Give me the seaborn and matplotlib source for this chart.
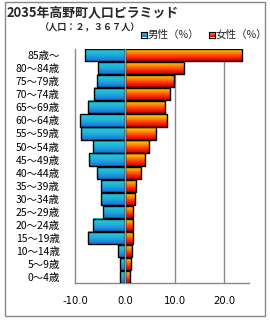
import numpy as np
import pandas as pd
import matplotlib
matplotlib.use("Agg")
import matplotlib.pyplot as plt
from matplotlib.patches import Rectangle
from matplotlib.colors import LinearSegmentedColormap
import seaborn as sns

categories = ["85歳～", "80～84歳", "75～79歳", "70～74歳", "65～69歳", "60～64歳",
              "55～59歳", "50～54歳", "45～49歳", "40～44歳", "35～39歳", "30～34歳",
              "25～29歳", "20～24歳", "15～19歳", "10～14歳", "5～9歳", "0～4歳"]
male = [7.9, 5.3, 5.5, 6.2, 7.4, 8.9, 8.7, 6.4, 7.1, 5.5, 4.7, 4.7, 4.4, 6.4, 7.3, 1.3, 0.9, 0.9]
female = [23.6, 11.8, 9.8, 9.0, 8.0, 8.4, 6.2, 4.8, 4.0, 3.2, 2.2, 2.0, 1.6, 1.6, 1.6, 1.4, 1.2, 1.0]
xticks = [-10, 0, 10, 20]
xticklabels = ["-10.0", "0.0", "10.0", "20.0"]

sns.set_theme(style="white")
plt.rcParams['font.family'] = ['Noto Sans CJK JP', 'DejaVu Sans']

fig = plt.figure(figsize=(2.7, 3.2), dpi=100)
ax = fig.add_axes([75/270, 1-283.3/320, (249.3-75)/270, (283.3-48.8)/320])

df = pd.DataFrame({"cat": categories, "male": [-v for v in male], "female": female})
sns.barplot(data=df, y="cat", x="male", order=categories, ax=ax, width=0.93,
            color="#1aa0d8", edgecolor="black", linewidth=1.0, orient="h")
n_m = len(ax.patches)
sns.barplot(data=df, y="cat", x="female", order=categories, ax=ax, width=0.93,
            color="#ff8000", edgecolor="black", linewidth=1.0, orient="h")

cm_m = LinearSegmentedColormap.from_list("m", ["#22d4d4", "#20b0dc", "#1a70d8"])
cm_f = LinearSegmentedColormap.from_list("f", ["#ffe000", "#ff9000", "#ff3000", "#c80000"])
grad = np.linspace(0, 1, 64).reshape(-1, 1)

for i, p in enumerate(ax.patches):
    x0, y0 = p.get_x(), p.get_y()
    w, h = p.get_width(), p.get_height()
    cm = cm_m if i < n_m else cm_f
    xa, xb = min(x0, x0 + w), max(x0, x0 + w)
    ya, yb = min(y0, y0 + h), max(y0, y0 + h)
    ax.imshow(grad, cmap=cm, aspect="auto", origin="upper",
              extent=(xa, xb, yb, ya), zorder=2, interpolation="bilinear")
    p.set_facecolor("none")
    p.set_zorder(3)

ax.set_xlim(-10, 25)
ax.set_ylim(len(categories) - 0.5, -0.5)
ax.set_xlabel("")
ax.set_ylabel("")
ax.set_xticks(xticks)
ax.set_xticklabels(xticklabels, fontsize=7.2, family="DejaVu Sans", color="black")
ax.tick_params(axis="x", length=0, pad=9)
ax.tick_params(axis="y", length=0, pad=11, labelsize=7.5, labelcolor="black")
for x in [10, 20]:
    ax.axvline(x, color="#888888", lw=1, zorder=1)
ax.axvline(0, color="#9aa0a8", lw=1, zorder=4)
for s in ["top", "right"]:
    ax.spines[s].set_visible(False)
for s in ["left", "bottom"]:
    ax.spines[s].set_color("#888888")
    ax.spines[s].set_linewidth(1)

# frame
fig.patches.append(Rectangle((5.3/270, 1-316/320), (265-5.3)/270, (316-1.5)/320,
                             transform=fig.transFigure, fill=False,
                             edgecolor="#888888", lw=1))

fig.text(7/270, 1-12.5/320, "2035年高野町人口ピラミッド", fontsize=9.3,
         fontweight="bold", va="center", ha="left")
fig.text(90/270, 1-28/320, "（人口：２，３６７人）", fontsize=6.6,
         fontweight="bold", va="center", ha="center")

# legend
for xs, cm, label in [(141, cm_m, "男性（%）"), (209, cm_f, "女性（%）")]:
    lax = fig.add_axes([xs/270, 1-37.5/320, 5.5/270, 5.5/320])
    lax.imshow(grad, cmap=cm, aspect="auto", extent=(0, 1, 0, 1))
    lax.set_xticks([]); lax.set_yticks([])
    for s in lax.spines.values():
        s.set_color("black"); s.set_linewidth(0.8); s.set_visible(True)
    fig.text((xs + 7)/270, 1-34.5/320, label, fontsize=7.6, va="center", ha="left")

fig.savefig("out.png", dpi=100)
